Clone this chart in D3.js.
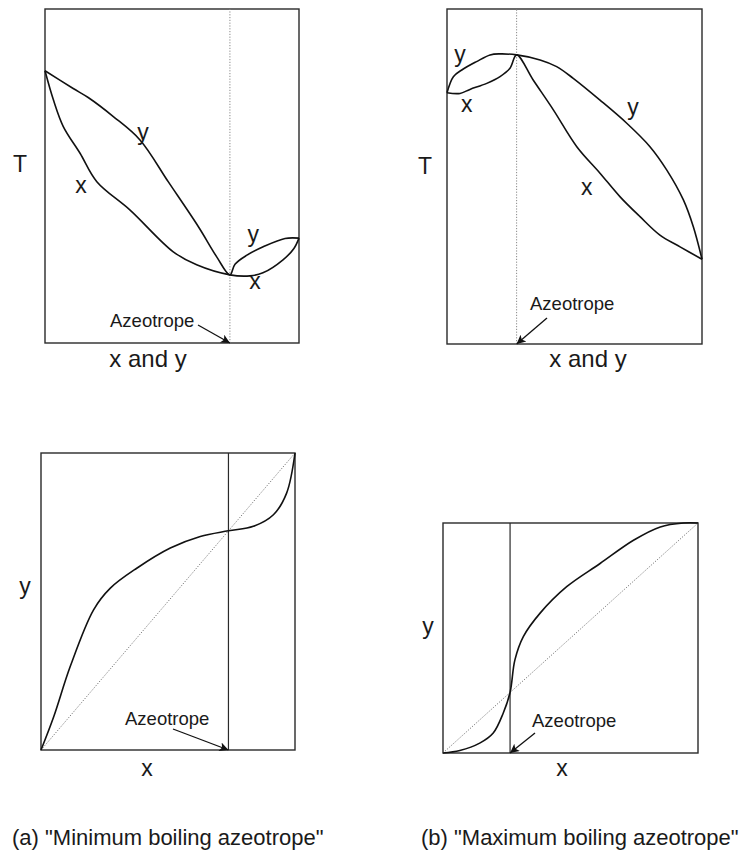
<!DOCTYPE html>
<html>
<head>
<meta charset="utf-8">
<script src="https://cdn.jsdelivr.net/npm/d3@7"></script>
<style>
  html, body { margin: 0; padding: 0; background: #fff; }
  svg { display: block; }
  text { font-family: "Liberation Sans", Arial, Helvetica, sans-serif; fill: #1a1a1a; }
</style>
</head>
<body>
<svg id="chart" width="746" height="854"></svg>
<script>
// ---- (a) minimum boiling azeotrope: T vs x,y (composition 0..1, T normalised 0..1)
const minAzeo = 0.728;
const minVapourX = [0, 0.111, 0.170, 0.269, 0.374, 0.485, 0.604, 0.676, 0.728, 0.748, 0.795, 0.859, 0.945, 1];
const minVapourT = [0.815, 0.762, 0.735, 0.678, 0.608, 0.483, 0.348, 0.258, 0.204, 0.236, 0.263, 0.288, 0.313, 0.314];
const minLiquidX = [0, 0.033, 0.072, 0.138, 0.204, 0.335, 0.505, 0.597, 0.728, 0.807, 0.858, 0.937, 0.980, 1];
const minLiquidT = [0.815, 0.728, 0.648, 0.568, 0.483, 0.398, 0.273, 0.234, 0.204, 0.201, 0.210, 0.249, 0.283, 0.314];

// ---- (b) maximum boiling azeotrope: T vs x,y
const maxAzeo = 0.273;
const maxVapourX = [0, 0.025, 0.058, 0.116, 0.169, 0.208, 0.273, 0.365, 0.430, 0.495, 0.600, 0.705, 0.796, 0.862, 0.927, 0.966, 1];
const maxVapourT = [0.750, 0.798, 0.818, 0.843, 0.863, 0.866, 0.863, 0.848, 0.828, 0.793, 0.728, 0.659, 0.589, 0.519, 0.430, 0.350, 0.253];
const maxLiquidX = [0, 0.051, 0.090, 0.156, 0.208, 0.247, 0.273, 0.338, 0.417, 0.509, 0.600, 0.678, 0.757, 0.835, 0.914, 1];
const maxLiquidT = [0.750, 0.748, 0.760, 0.778, 0.798, 0.823, 0.863, 0.788, 0.699, 0.589, 0.510, 0.440, 0.380, 0.325, 0.290, 0.253];

// ---- x–y equilibrium curves
const minXYx = [0, 0.050, 0.115, 0.207, 0.273, 0.377, 0.509, 0.627, 0.738, 0.836, 0.915, 0.967, 1];
const minXYy = [0, 0.112, 0.281, 0.472, 0.545, 0.612, 0.680, 0.719, 0.738, 0.753, 0.792, 0.865, 1];
const minXYAzeo = 0.738;

const maxXYx = [0, 0.066, 0.144, 0.197, 0.236, 0.263, 0.282, 0.315, 0.380, 0.485, 0.616, 0.747, 0.852, 0.943, 1];
const maxXYy = [0, 0.011, 0.043, 0.087, 0.173, 0.263, 0.405, 0.506, 0.607, 0.723, 0.824, 0.925, 0.983, 1, 1];
const maxXYAzeo = 0.263;

const captions = ['(a) "Minimum boiling azeotrope"', '(b) "Maximum boiling azeotrope"'];

const zip = (a, b) => a.map((v, i) => [v, b[i]]);

const svg = d3.select("#chart");

// arrow head used by the "Azeotrope" pointers
svg.append("defs").append("marker")
  .attr("id", "head")
  .attr("viewBox", "0 0 10 10")
  .attr("refX", 10).attr("refY", 5)
  .attr("markerWidth", 14).attr("markerHeight", 9)
  .attr("markerUnits", "userSpaceOnUse")
  .attr("orient", "auto")
  .append("path").attr("d", "M0,0 L10,5 L0,10 L2.5,5 Z").attr("fill", "#111");

function panel(box, opts) {
  const g = svg.append("g");
  const x = d3.scaleLinear().domain([0, 1]).range([box.x0, box.x1]);
  const y = d3.scaleLinear().domain([0, 1]).range([box.y1, box.y0]);
  const line = d3.line().x(d => x(d[0])).y(d => y(d[1])).curve(d3.curveCatmullRom.alpha(0.5));

  // frame
  g.append("rect")
    .attr("x", box.x0).attr("y", box.y0)
    .attr("width", box.x1 - box.x0).attr("height", box.y1 - box.y0)
    .attr("fill", "none").attr("stroke", "#2a2a2a").attr("stroke-width", 1.4);

  // diagonal y = x
  if (opts.diagonal) {
    g.append("line")
      .attr("x1", x(0)).attr("y1", y(0)).attr("x2", x(1)).attr("y2", y(1))
      .attr("stroke", "#777").attr("stroke-width", 1).attr("stroke-dasharray", "1.2,1.6");
  }

  // azeotrope composition marker
  g.append("line")
    .attr("x1", x(opts.azeo)).attr("x2", x(opts.azeo))
    .attr("y1", y(0)).attr("y2", y(1))
    .attr("stroke", opts.azeoDotted ? "#888" : "#2a2a2a")
    .attr("stroke-width", opts.azeoDotted ? 1 : 1.2)
    .attr("stroke-dasharray", opts.azeoDotted ? "1.2,1.6" : null);

  // curves
  opts.curves.forEach(c => {
    g.append("path").attr("d", line(c))
      .attr("fill", "none").attr("stroke", "#111").attr("stroke-width", 1.6)
      .attr("stroke-linejoin", "round");
  });

  // curve labels
  (opts.labels || []).forEach(l => {
    g.append("text").attr("x", x(l[1])).attr("y", y(l[2]))
      .attr("text-anchor", "middle").attr("dy", "0.3em")
      .attr("font-size", 23).text(l[0]);
  });

  // axis titles
  g.append("text").attr("x", box.x0 + opts.xTitle[0]).attr("y", box.y1 + opts.xTitle[1])
    .attr("text-anchor", "middle").attr("font-size", opts.xTitle[3]).text(opts.xTitle[2]);
  g.append("text").attr("x", box.x0 - opts.yTitle[0]).attr("y", opts.yTitle[1])
    .attr("text-anchor", "middle").attr("font-size", 23).text(opts.yTitle[2]);

  // "Azeotrope" pointer
  const a = opts.pointer;
  g.append("text").attr("x", a.tx).attr("y", a.ty)
    .attr("font-size", 18.5).text("Azeotrope");
  g.append("line")
    .attr("x1", a.sx).attr("y1", a.sy)
    .attr("x2", x(opts.azeo)).attr("y2", y(0))
    .attr("stroke", "#111").attr("stroke-width", 1.3)
    .attr("marker-end", "url(#head)");
}

// (a) T–x,y
panel({ x0: 45, x1: 299, y0: 9, y1: 343 }, {
  azeo: minAzeo, azeoDotted: true,
  curves: [zip(minVapourX, minVapourT), zip(minLiquidX, minLiquidT)],
  labels: [["y", 0.386, 0.629], ["x", 0.142, 0.470], ["y", 0.820, 0.323], ["x", 0.827, 0.183]],
  xTitle: [103, 24, "x and y", 24],
  yTitle: [25, 172, "T"],
  pointer: { tx: 110, ty: 327, sx: 198, sy: 325 }
});

// (b) T–x,y
panel({ x0: 447, x1: 702, y0: 9, y1: 344 }, {
  azeo: maxAzeo, azeoDotted: true,
  curves: [zip(maxVapourX, maxVapourT), zip(maxLiquidX, maxLiquidT)],
  labels: [["y", 0.051, 0.863], ["x", 0.077, 0.713], ["y", 0.729, 0.704], ["x", 0.548, 0.466]],
  xTitle: [141, 23, "x and y", 24],
  yTitle: [22, 174, "T"],
  pointer: { tx: 530, ty: 310, sx: 547, sy: 318 }
});

// (a) y–x
panel({ x0: 41, x1: 295, y0: 453, y1: 750 }, {
  azeo: minXYAzeo, azeoDotted: false, diagonal: true,
  curves: [zip(minXYx, minXYy)],
  xTitle: [106, 26, "x", 23],
  yTitle: [16, 594, "y"],
  pointer: { tx: 125, ty: 725, sx: 173, sy: 729 }
});

// (b) y–x
panel({ x0: 443, x1: 698, y0: 523, y1: 753 }, {
  azeo: maxXYAzeo, azeoDotted: false, diagonal: true,
  curves: [zip(maxXYx, maxXYy)],
  xTitle: [119, 23, "x", 23],
  yTitle: [15, 634, "y"],
  pointer: { tx: 532, ty: 727, sx: 535, sy: 733 }
});

// captions
svg.selectAll("text.caption").data(captions).enter().append("text")
  .attr("class", "caption")
  .attr("x", (d, i) => i === 0 ? 12 : 421)
  .attr("y", 845)
  .attr("font-size", 22)
  .text(d => d);
</script>
</body>
</html>
